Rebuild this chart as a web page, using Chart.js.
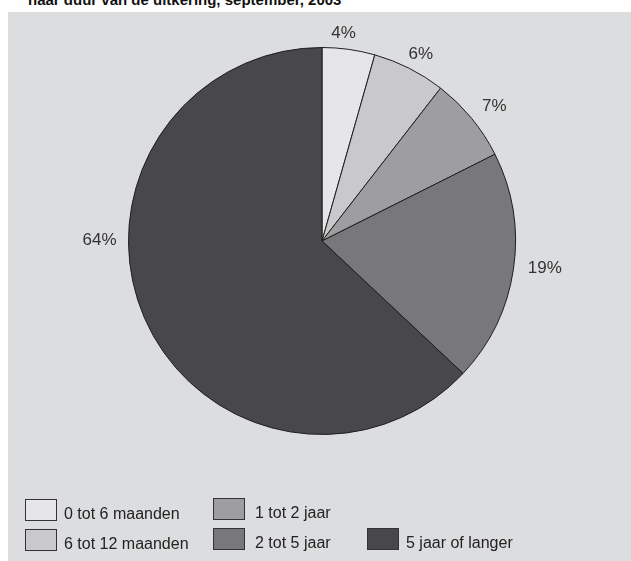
<!DOCTYPE html>
<html>
<head>
<meta charset="utf-8">
<script src="https://cdn.jsdelivr.net/npm/chart.js@4"></script>
<style>
  body { margin: 0; background: #fff; font-family: "Liberation Sans", Arial, sans-serif; }
  #title { position: absolute; left: 28px; top: -8px; font-size: 15px; line-height: 15px; font-weight: bold; color: #111; white-space: nowrap; }
  #panel { position: absolute; left: 8px; top: 12px; width: 623px; height: 549px; background: #dcdddf; }
</style>
</head>
<body>
<div id="title">naar duur van de uitkering, september, 2003</div>
<div id="panel"><canvas id="chart" width="623" height="549"></canvas></div>
<script>
// categorieën en waarden (aandeel in procenten)
const categories = ['0 tot 6 maanden', '6 tot 12 maanden', '1 tot 2 jaar', '2 tot 5 jaar', '5 jaar of langer'];
// grootte van de taartpunten zoals gemeten in de figuur
const shares = [4.4, 6.1, 7.1, 19.4, 63.0];
// labels zoals gedrukt
const percentLabels = ['4%', '6%', '7%', '19%', '64%'];
const sliceColors = ['#e6e6e8', '#c9c9cb', '#9e9ea0', '#78787b', '#48484b'];

// Plugin voor de procentlabels buiten de taart
const outsideLabels = {
    id: 'outsideLabels',
    afterDatasetsDraw(chart, args, opts) {
        const ctx = chart.ctx;
        const meta = chart.getDatasetMeta(0);
        ctx.save();
        ctx.font = '17px "Liberation Sans", Arial, sans-serif';
        ctx.fillStyle = '#333';
        ctx.textAlign = 'center';
        ctx.textBaseline = 'middle';
        meta.data.forEach((arc, i) => {
            const p = arc.getProps(['x', 'y', 'startAngle', 'endAngle', 'outerRadius'], true);
            const a = (p.startAngle + p.endAngle) / 2 + (opts.nudge[i] || 0) * Math.PI / 180;
            const r = p.outerRadius + opts.dist[i];
            ctx.fillText(percentLabels[i], p.x + Math.cos(a) * r, p.y + Math.sin(a) * r);
        });
        ctx.restore();
    }
};

// Plugin voor de legenda onderaan (twee rijen)
const gridLegend = {
    id: 'gridLegend',
    afterDraw(chart, args, opts) {
        const ctx = chart.ctx;
        ctx.save();
        ctx.font = '16px "Liberation Sans", Arial, sans-serif';
        ctx.textBaseline = 'middle';
        categories.forEach((name, i) => {
            const [x, y] = opts.cells[i];
            ctx.fillStyle = sliceColors[i];
            ctx.fillRect(x, y, 32, 22);
            ctx.strokeStyle = '#333';
            ctx.lineWidth = 1;
            ctx.strokeRect(x + 0.5, y + 0.5, 31, 21);
            ctx.fillStyle = '#222';
            ctx.fillText(name, x + opts.textGap[i], y + 16);
        });
        ctx.restore();
    }
};

new Chart(document.getElementById('chart'), {
    type: 'pie',
    data: {
        labels: categories,
        datasets: [{
            data: shares,
            backgroundColor: sliceColors,
            borderColor: '#1e1e1e',
            borderWidth: 1
        }]
    },
    options: {
        responsive: false,
        animation: false,
        radius: 193.5,
        layout: { padding: { left: 120, right: 115, top: 35, bottom: 126 } },
        plugins: {
            legend: { display: false },
            tooltip: { enabled: false },
            outsideLabels: { dist: [15, 18, 25, 31, 29], nudge: [-2, 1, 1.5, -1.4, 23.5] },
            gridLegend: {
                cells: [[17, 487], [17, 517], [205, 486], [205, 516], [359, 516]],
                textGap: [39, 39, 42, 42, 39]
            }
        }
    },
    plugins: [outsideLabels, gridLegend]
});
</script>
</body>
</html>
